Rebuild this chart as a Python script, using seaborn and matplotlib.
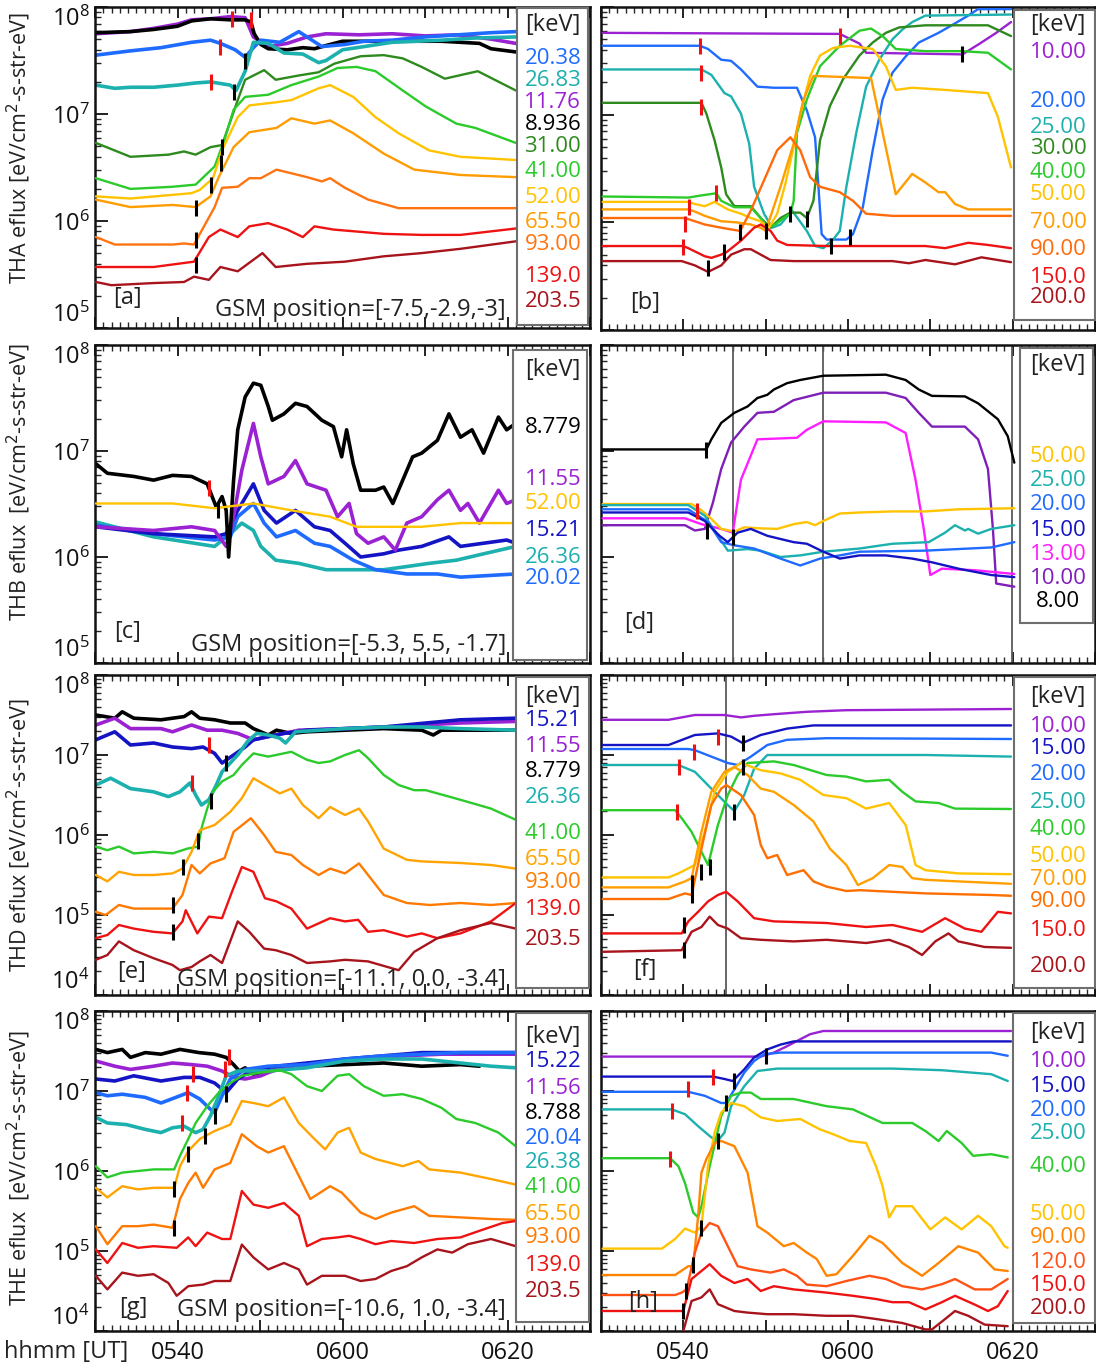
import numpy as np
import pandas as pd
import matplotlib
matplotlib.use("Agg")
import matplotlib.pyplot as plt
import matplotlib.ticker as mticker
from matplotlib.patches import Rectangle
import seaborn as sns

sns.set_theme(style="white")
plt.rcParams['font.family'] = ['Open Sans', 'DejaVu Sans']
plt.rcParams['axes.unicode_minus'] = False

# ---------------------------------------------------------------------------
# Electron energy flux, log10 [eV/cm^2-s-str-eV]; time in minutes after 00 UT.
# Each series: list of (minute, log10 eflux).  Tick marks: (minute, log10, colour).
# ---------------------------------------------------------------------------

# [a] THA observations
tha_obs = {
    '11.76': [(330.1,7.75),(334.3,7.77),(337.1,7.80),(340,7.84),(341.7,7.88),(344,7.89),(346.4,7.91),(348.2,7.90),(349.2,7.72),(351,7.63),(353.3,7.66),(355.7,7.72),(358,7.75),(362,7.74),(366,7.75),(370,7.73),(374,7.74),(378,7.70),(381,7.66)],
    '8.936': [(330.1,7.76),(334.3,7.77),(337.1,7.79),(340,7.82),(341.7,7.87),(344,7.89),(346.4,7.88),(348.2,7.88),(348.9,7.86),(349.3,7.75),(350.1,7.65),(351,7.61),(353.3,7.60),(355.2,7.62),(356.6,7.61),(358,7.64),(360,7.68),(364,7.68),(368,7.68),(372,7.68),(376.6,7.66),(378,7.61),(381,7.58)],
    '20.38': [(330.1,7.55),(334.3,7.59),(338,7.62),(341.7,7.67),(344,7.69),(345.2,7.66),(347,7.60),(348.2,7.53),(349.2,7.62),(350.1,7.69),(352.4,7.67),(354.7,7.77),(355.7,7.72),(357.5,7.63),(360.3,7.65),(362.6,7.68),(366,7.69),(370,7.72),(374,7.74),(378,7.76),(381,7.77)],
    '26.83': [(330.1,7.27),(332.4,7.24),(334.3,7.25),(337.1,7.25),(340,7.27),(342.2,7.29),(344,7.30),(346.4,7.27),(347.1,7.22),(348.2,7.40),(349.2,7.67),(351,7.66),(352.9,7.57),(355.2,7.56),(357.1,7.48),(358,7.50),(360,7.60),(362.6,7.63),(366,7.67),(372,7.69),(376,7.71),(381,7.72)],
    '31.00': [(330.1,6.73),(334.3,6.60),(338.9,6.62),(340.8,6.65),(342.2,6.62),(344,6.69),(345.4,6.71),(347.3,7.13),(348.2,7.32),(350.5,7.41),(351.9,7.32),(354.7,7.36),(357.1,7.39),(359,7.47),(362.2,7.54),(365,7.55),(367.3,7.52),(369.6,7.44),(372.4,7.33),(376.4,7.40),(381,7.22)],
    '41.00': [(330.1,6.40),(334.3,6.30),(339.4,6.32),(342.2,6.34),(344.5,6.51),(345.7,6.76),(346.8,7.04),(348.2,7.16),(351,7.18),(353.8,7.27),(357.1,7.35),(359.4,7.43),(361.7,7.44),(364,7.40),(367.3,7.22),(370.1,7.07),(373.8,6.91),(376.1,6.87),(381,6.73)],
    '52.00': [(330.1,6.23),(334.3,6.21),(341.7,6.26),(342.7,6.29),(344.3,6.40),(345.4,6.66),(347.3,6.97),(348.7,7.08),(352,7.11),(353.8,7.13),(357.1,7.24),(358.5,7.27),(361.3,7.16),(364,6.97),(366.8,6.82),(370.5,6.66),(374.3,6.60),(381,6.57)],
    '65.50': [(330.1,6.20),(334.3,6.13),(339.4,6.15),(342.2,6.13),(344,6.23),(345,6.41),(346.8,6.69),(348.7,6.83),(352,6.87),(353.8,6.96),(356.6,6.91),(358.5,6.94),(361.3,6.82),(365,6.63),(368.7,6.48),(374.3,6.43),(381,6.41)],
    '93.00': [(330.1,5.85),(332.4,5.78),(339.4,5.78),(340.8,5.79),(342,5.78),(344.5,6.13),(345.4,6.31),(347.3,6.32),(348.7,6.40),(350.1,6.40),(352,6.48),(355.7,6.41),(357.5,6.37),(358.5,6.40),(360.3,6.31),(363.1,6.20),(366.8,6.12),(381,6.12)],
    '139.0': [(330.1,5.57),(337.1,5.57),(342,5.62),(343.8,5.85),(345.2,5.92),(347.3,5.85),(348.7,5.95),(351,5.98),(353.3,5.92),(355.2,5.85),(356.6,5.95),(358.9,5.92),(365,5.88),(369.6,5.87),(374.3,5.87),(381,5.93)],
    '203.5': [(330.1,5.43),(332,5.40),(337.1,5.42),(340.8,5.43),(342,5.48),(343.8,5.45),(345.2,5.57),(347.3,5.53),(350.3,5.70),(351.9,5.57),(355.7,5.60),(360.3,5.62),(365,5.67),(369.6,5.70),(374.3,5.74),(381,5.81)],
}
tha_marks = [(346.6,7.89,'r'),(348.9,7.88,'r'),(345.2,7.63,'r'),(344.0,7.30,'r'),
             (348.2,7.50,'k'),(346.9,7.21,'k'),(345.4,6.69,'k'),(345.3,6.54,'k'),
             (344.0,6.34,'k'),(342.3,6.12,'k'),(342.2,5.82,'k'),(342.3,5.59,'k')]

# [b] THA model
tha_mod = {
    '10.00': [(330.2,7.76),(359,7.75),(361.4,7.66),(362.2,7.575),(366,7.57),(373.9,7.56),(376,7.66),(378,7.76),(379.8,7.86)],
    '20.00': [(330.2,7.64),(342,7.64),(343,7.61),(344.6,7.51),(345.8,7.50),(347,7.42),(349,7.26),(351,7.25),(353.8,7.25),(355,7.04),(356,6.79),(356.8,5.89),(357.4,5.84),(359.8,5.84),(360.6,5.89),(361.8,6.14),(363,6.67),(364.2,7.14),(365.4,7.39),(367,7.54),(368.6,7.67),(371,7.76),(372.6,7.83),(374.6,7.92),(375.8,7.98),(379.8,7.98)],
    '25.00': [(330.2,7.42),(342.2,7.42),(343.4,7.37),(345,7.20),(345.8,7.17),(347,7.01),(348,6.73),(348.6,6.33),(349.8,6.08),(350.8,5.95),(351.8,5.98),(353.2,6.11),(355,5.92),(356,5.78),(357,5.76),(358.2,5.84),(359,5.92),(359.8,6.33),(361,6.83),(362.2,7.26),(363.8,7.51),(365.4,7.70),(366.6,7.79),(367.8,7.86),(369.4,7.92),(379.8,7.93)],
    '30.00': [(330.2,7.11),(342.2,7.11),(342.8,7.01),(343.8,6.76),(344.6,6.51),(345.2,6.26),(346.2,6.15),(348.2,6.15),(349.4,6.04),(350.6,5.95),(351.8,6.04),(353,6.09),(354.2,6.09),(355,6.04),(355.8,6.20),(356.6,6.76),(357.8,7.08),(359.4,7.33),(361.4,7.55),(363,7.67),(364.6,7.76),(366.2,7.81),(369.4,7.83),(377,7.83),(379.8,7.73)],
    '40.00': [(330.2,6.24),(340.6,6.23),(342.2,6.25),(344,6.27),(344.6,6.20),(346.2,6.14),(348.2,6.14),(349.4,6.04),(350.2,5.95),(351.2,5.98),(352.2,6.04),(353,6.08),(353.4,6.20),(353.8,6.83),(355,7.14),(356.6,7.45),(359,7.64),(361.4,7.78),(362.8,7.80),(364.2,7.73),(365.8,7.61),(369.4,7.59),(373.8,7.59),(377,7.575),(379.8,7.42)],
    '50.00': [(330.2,6.19),(340.6,6.19),(341.4,6.17),(342.6,6.15),(343.8,6.19),(345.4,6.12),(347,6.08),(348.2,6.04),(349.4,6.01),(350.4,5.95),(351.4,6.08),(352.4,6.36),(353.4,6.70),(354.2,7.01),(355.4,7.36),(356.6,7.55),(358.2,7.62),(360.2,7.64),(363,7.61),(364.6,7.45),(365.8,7.23),(367.8,7.25),(371.8,7.23),(377,7.20),(378.2,6.98),(379.8,6.51)],
    '70.00': [(330.2,6.12),(340.6,6.12),(341.4,6.10),(342.6,6.06),(344.6,6.01),(346.4,6.00),(348.2,5.98),(349.4,5.95),(350.0,5.92),(351.8,6.33),(353.4,6.73),(354.6,7.14),(355.8,7.36),(362.8,7.34),(365.8,6.26),(367.8,6.45),(369.4,6.37),(371,6.28),(371.8,6.28),(373,6.17),(374.6,6.12),(379.8,6.12)],
    '90.00': [(330.2,6.04),(340.2,6.04),(341.4,6.01),(342.6,5.98),(344.6,5.95),(346.9,5.92),(348.2,6.11),(349.8,6.39),(351.4,6.67),(353,6.79),(354.2,6.67),(355.4,6.42),(356.6,6.33),(359,6.28),(360.6,6.20),(362.2,6.08),(365.4,6.06),(379.8,6.06)],
    '150.0': [(330.2,5.78),(340,5.78),(340.6,5.76),(342.6,5.685),(343.4,5.67),(344.6,5.70),(345.2,5.72),(347,5.83),(348.6,5.95),(349.4,5.98),(350.6,5.92),(351.4,5.83),(352.6,5.79),(357.4,5.78),(369.4,5.78),(371.8,5.76),(374.6,5.81),(377,5.79),(379.8,5.76)],
    '200.0': [(330.2,5.64),(339.8,5.64),(341.4,5.60),(343,5.54),(344.6,5.60),(345.8,5.70),(347.4,5.75),(348.2,5.75),(349.4,5.70),(350.6,5.65),(353.4,5.64),(365.4,5.64),(367.4,5.62),(369.4,5.65),(373,5.61),(376.2,5.675),(379.8,5.63)],
}
tha_mod_marks = [(359.0,7.73,'r'),(342.0,7.64,'r'),(342.2,7.39,'r'),(342.2,7.07,'r'),
                 (344.0,6.27,'r'),(340.7,6.14,'r'),(340.2,5.98,'r'),(340.0,5.77,'r'),
                 (373.9,7.56,'k'),(343.0,5.575,'k'),(345.0,5.72,'k'),(346.9,5.91,'k'),
                 (350.0,5.92,'k'),(353.0,6.075,'k'),(355.0,6.03,'k'),(357.9,5.78,'k'),
                 (360.2,5.86,'k')]

# [c] THB observations
thb_obs = {
    '52.00': [(330.1,6.505),(339.4,6.505),(344.5,6.46),(349.2,6.505),(353.8,6.44),(358.5,6.38),(361.7,6.285),(369.6,6.285),(374.3,6.32),(381,6.32)],
    '26.36': [(330.1,6.33),(337.1,6.19),(344.5,6.10),(346.4,6.22),(347.8,6.32),(349.2,6.25),(350.1,6.10),(351.9,5.97),(354.7,5.94),(358,5.88),(361.3,5.88),(365,5.88),(367.8,5.91),(370.5,5.94),(373.8,5.97),(377.1,6.03),(381,6.10)],
    '20.02': [(330.1,6.30),(337.1,6.22),(344.5,6.16),(346.4,6.19),(347.3,6.38),(349.2,6.505),(350.5,6.32),(352,6.19),(354.3,6.25),(356.6,6.13),(358.5,6.10),(361.3,5.97),(364,5.88),(367.8,5.84),(371.5,5.84),(374.3,5.81),(381,5.84)],
    '15.21': [(330.1,6.285),(337.1,6.22),(344.5,6.19),(345.9,6.22),(347.3,6.44),(349.2,6.69),(350.5,6.44),(352,6.32),(354.3,6.44),(356.6,6.285),(358.5,6.25),(360.3,6.13),(362.2,6.00),(365,6.03),(366.8,6.065),(369.6,6.10),(372.9,6.19),(374.3,6.10),(377.1,6.13),(379.9,6.16),(381,6.13)],
    '11.55': [(330.1,6.285),(337.1,6.25),(341.7,6.285),(344.5,6.25),(345.9,6.10),(346.8,6.38),(347.8,6.82),(349.2,7.26),(350.1,6.945),(351,6.69),(352.9,6.76),(354.3,6.91),(355.7,6.69),(358,6.63),(359.4,6.38),(360.8,6.505),(361.7,6.22),(363.1,6.13),(365,6.19),(366.4,6.065),(367.8,6.32),(369.6,6.38),(371.5,6.54),(372.9,6.63),(374.3,6.44),(375.2,6.505),(376.6,6.32),(378.9,6.63),(379.9,6.505),(381,6.54)],
    '8.779': [(330.1,6.88),(331.5,6.79),(334.7,6.76),(337.1,6.725),(339.4,6.77),(341.7,6.76),(343.6,6.69),(344.7,6.47),(345.4,6.57),(345.9,6.44),(346.2,6.00),(346.8,6.725),(347.3,7.20),(348.2,7.51),(349.2,7.64),(350.1,7.62),(351,7.42),(351.5,7.29),(352.9,7.35),(354.3,7.45),(355.7,7.42),(357.5,7.29),(358.9,7.23),(359.9,6.945),(360.5,7.20),(361.3,6.88),(362.2,6.63),(364,6.63),(365,6.66),(366.1,6.505),(367.3,6.725),(368.5,6.945),(369.6,6.98),(371.5,7.10),(372.9,7.35),(374.3,7.13),(375.7,7.20),(377.1,6.98),(378.9,7.32),(379.9,7.20),(381,7.26)],
}
thb_marks = [(343.8,6.65,'r'),(344.9,6.44,'k')]

# [d] THB model
thb_mod = {
    '8.00': [(330.2,7.015),(342.8,7.015),(343.4,7.11),(344.6,7.265),(346.2,7.36),(347.8,7.42),(349,7.50),(350.2,7.53),(351,7.58),(352.6,7.64),(354.2,7.67),(357,7.71),(364.6,7.72),(367,7.67),(368.6,7.58),(370.2,7.52),(374.2,7.515),(375.8,7.45),(378.2,7.30),(379.4,7.14),(380.2,6.89)],
    '10.00': [(330.2,6.30),(340.2,6.30),(341.4,6.25),(342.6,6.265),(343.6,6.515),(344.6,6.83),(345.8,7.08),(347.4,7.23),(349,7.36),(351,7.37),(353.4,7.48),(357,7.55),(364.6,7.55),(367,7.50),(368.6,7.36),(370.2,7.23),(374.2,7.23),(375.8,7.11),(377,6.83),(377.6,6.265),(378,5.75),(380.2,5.72)],
    '13.00': [(330.2,6.365),(340.2,6.365),(342.2,6.31),(344.6,6.265),(346,6.23),(347,6.73),(349,7.11),(353.8,7.125),(355,7.20),(357,7.28),(364.6,7.27),(367,7.17),(368.2,6.73),(369.2,6.265),(370,5.83),(371.4,5.89),(375.4,5.875),(380.2,5.84)],
    '50.00': [(330.2,6.50),(341,6.50),(342.2,6.44),(343.4,6.36),(344.6,6.265),(346.2,6.24),(347.4,6.28),(349.4,6.27),(351.4,6.265),(353.4,6.31),(355,6.33),(356,6.30),(357,6.34),(359,6.41),(361.4,6.42),(365.4,6.43),(369.4,6.43),(373.4,6.45),(380.2,6.46)],
    '25.00': [(330.2,6.49),(340.6,6.49),(342.6,6.39),(344.2,6.20),(345.4,6.06),(347.8,6.075),(349.4,6.06),(351.8,6.00),(354.2,6.015),(357,6.05),(361.4,6.08),(365.4,6.125),(369.8,6.14),(371.8,6.23),(373,6.30),(374.2,6.25),(374.6,6.265),(375.8,6.22),(377.4,6.265),(378.6,6.28),(380.2,6.30)],
    '20.00': [(330.2,6.45),(340.6,6.45),(343,6.33),(344.6,6.14),(346.2,6.11),(348.6,6.08),(351.8,5.985),(354.2,5.92),(356.6,5.985),(359,6.015),(361.4,6.05),(369.4,6.06),(373.4,6.075),(377.4,6.09),(380.2,6.14)],
    '15.00': [(330.2,6.42),(340.6,6.42),(342.6,6.34),(344.4,6.20),(345.4,6.14),(346.6,6.23),(348.2,6.265),(350.2,6.20),(353.4,6.14),(355,6.125),(357,6.05),(359,5.985),(361.4,6.015),(364.6,6.015),(367.8,5.985),(370.2,5.95),(373.4,5.89),(377.4,5.83),(380.2,5.81)],
}
thb_mod_marks = [(341.6,6.43,'r'),(342.8,7.01,'k'),(342.9,6.25,'k'),(346.0,6.19,'k')]
thb_mod_vlines = [346.0, 357.0, 379.9]

# [e] THD observations
thd_obs = {
    '8.779': [(330.1,7.50),(332.4,7.46),(333.3,7.54),(334.7,7.46),(338,7.44),(340.8,7.48),(341.7,7.54),(342.7,7.46),(344.5,7.44),(346.4,7.40),(348.2,7.40),(349.2,7.33),(350.1,7.29),(351,7.25),(352,7.31),(353.8,7.27),(355.7,7.29),(360.3,7.31),(365,7.33),(369.6,7.31),(371,7.25),(372,7.31),(376.6,7.31),(381,7.31)],
    '11.55': [(330.1,7.375),(332.4,7.46),(334.3,7.33),(338,7.33),(339.4,7.29),(341.7,7.375),(343.6,7.31),(345.4,7.31),(347.3,7.27),(349.2,7.19),(351,7.23),(352.9,7.27),(354.7,7.31),(360.3,7.33),(365,7.35),(369.6,7.375),(374.3,7.40),(381,7.42)],
    '15.21': [(330.1,7.19),(332.4,7.29),(334.3,7.125),(337.1,7.15),(339.4,7.10),(341.7,7.08),(343.1,7.10),(344.5,7.02),(345.4,6.90),(346.8,7.00),(348.2,7.10),(349.2,7.19),(351,7.23),(352.9,7.27),(355.7,7.31),(360.3,7.33),(365,7.35),(369.6,7.395),(374.3,7.44),(381,7.46)],
    '26.36': [(330.1,6.625),(331.9,6.71),(334.3,6.58),(337.1,6.54),(338.9,6.48),(340.3,6.54),(341.5,6.65),(342.2,6.50),(342.9,6.375),(343.8,6.44),(344.7,6.625),(345.4,6.79),(347.3,7.00),(348.5,7.17),(349.6,7.27),(351,7.25),(352.4,7.21),(353.1,7.15),(354.3,7.29),(360.3,7.33),(365,7.35),(369.6,7.35),(374.3,7.33),(381,7.31)],
    '41.00': [(330.1,5.855),(331.5,5.81),(332.9,5.855),(334.7,5.77),(337.1,5.79),(339.4,5.77),(341.2,5.83),(342.5,5.855),(342.9,6.08),(343.6,6.33),(344.3,6.54),(345.4,6.67),(346.8,6.75),(347.8,6.875),(349.2,7.02),(351,6.98),(353.8,7.04),(355.7,6.94),(357.1,6.90),(358.5,6.92),(360.3,7.00),(362,7.06),(363.1,6.96),(365,6.75),(366.8,6.625),(368.7,6.56),(370.1,6.56),(374.3,6.44),(378,6.33),(381,6.19)],
    '65.50': [(330.1,5.50),(331.5,5.42),(332.9,5.54),(334.7,5.50),(337.1,5.50),(339.4,5.52),(340.6,5.58),(341.7,5.79),(342.7,6.06),(344.5,6.125),(346.4,6.29),(347.8,6.46),(349.2,6.71),(350.6,6.625),(352.4,6.52),(353.8,6.58),(355.2,6.375),(357.1,6.21),(358.5,6.35),(360.3,6.25),(362,6.33),(363.1,6.17),(365,5.83),(367.8,5.69),(369.6,5.67),(374.3,5.65),(378,5.625),(381,5.58)],
    '93.00': [(330.1,5.04),(331.3,5.00),(332.9,5.125),(334.7,5.08),(339.4,5.08),(340.6,5.25),(341.7,5.625),(342.7,5.52),(344,5.645),(345.7,5.71),(346.8,6.04),(348.9,6.21),(350.5,6.00),(351.9,5.79),(353.8,5.75),(355.2,5.625),(357.1,5.50),(358.5,5.58),(360.3,5.52),(362,5.645),(363.1,5.50),(365,5.25),(367.8,5.15),(370.6,5.125),(374.3,5.15),(378,5.125),(381,5.15)],
    '139.0': [(330.1,4.71),(331.5,4.75),(332.9,4.875),(334.7,4.83),(337.1,4.79),(339.4,4.77),(340.6,4.92),(341,5.06),(342.4,4.77),(343.8,4.98),(345.4,4.96),(346.6,5.29),(347.8,5.60),(349.2,5.54),(350.6,5.21),(352,5.17),(353.8,5.08),(355.7,4.83),(358.5,4.96),(360.3,4.92),(361.9,4.94),(363.1,4.79),(365,4.81),(367.8,4.73),(369.6,4.77),(371.5,4.71),(374.3,4.77),(378,4.92),(381,5.15)],
    '203.5': [(330.1,4.44),(331.5,4.50),(332.9,4.67),(334.7,4.56),(337.1,4.46),(339.4,4.375),(340.3,4.31),(341.7,4.35),(342.7,4.42),(344,4.50),(345.4,4.40),(347.3,4.92),(348.7,4.79),(350.5,4.58),(351.9,4.56),(353.8,4.50),(355.7,4.40),(358.5,4.42),(360.3,4.44),(363.1,4.42),(366.8,4.31),(368.7,4.54),(371.5,4.71),(374.3,4.81),(378,4.90),(381,4.83)],
}
thd_marks = [(343.8,7.125,'r'),(341.7,6.65,'r'),(345.9,6.90,'k'),(344.0,6.42,'k'),
             (342.5,5.92,'k'),(340.7,5.60,'k'),(339.4,5.125,'k'),(339.4,4.79,'k')]

# [f] THD model
thd_mod = {
    '10.00': [(330.2,7.44),(338.2,7.44),(341.4,7.50),(345,7.50),(347,7.47),(348.6,7.49),(351,7.51),(355,7.54),(359.8,7.56),(379.8,7.575)],
    '15.00': [(330.2,7.125),(338.2,7.125),(341.4,7.25),(344.2,7.27),(345.8,7.23),(347.2,7.15),(349.4,7.25),(352.6,7.33),(355.8,7.37),(379.8,7.37)],
    '20.00': [(330.2,7.075),(340.6,7.075),(341.4,7.06),(343.4,6.98),(345.4,6.90),(346.6,6.875),(348.2,6.98),(350.2,7.125),(352.6,7.19),(357.4,7.21),(379.8,7.20)],
    '25.00': [(330.2,6.875),(339.4,6.875),(341.4,6.79),(343.4,6.58),(345.4,6.375),(346.2,6.30),(347.4,6.50),(348.6,6.83),(350.2,7.00),(353.4,7.00),(369.4,7.00),(379.8,6.98)],
    '40.00': [(330.2,6.31),(339,6.31),(339.8,6.21),(341,6.04),(342.2,5.79),(343,5.625),(344.2,6.125),(345.4,6.50),(346.6,6.75),(347.8,6.90),(351,6.92),(353.4,6.875),(357.4,6.75),(359.8,6.73),(362.2,6.67),(365,6.69),(366.6,6.54),(368.2,6.42),(371,6.40),(373,6.33),(379.8,6.325)],
    '50.00': [(330.2,5.47),(338.2,5.47),(339.4,5.52),(341.4,5.625),(342.6,6.04),(343.8,6.54),(345.4,6.79),(347,6.90),(349.4,6.81),(351.8,6.77),(354.2,6.69),(357,6.50),(359.8,6.46),(362.2,6.33),(365,6.40),(367,6.125),(368.2,5.625),(369.4,5.56),(373.4,5.52),(379.8,5.51)],
    '70.00': [(330.2,5.345),(338.2,5.345),(340.2,5.42),(341,5.46),(342.2,6.04),(343.4,6.54),(345,6.79),(346.2,6.85),(347.8,6.75),(349.4,6.58),(351,6.54),(353.4,6.375),(355.8,6.17),(357.8,5.83),(359.8,5.625),(361.2,5.375),(363,5.46),(365,5.625),(366.6,5.60),(367.8,5.46),(369.4,5.44),(373.4,5.42),(379.8,5.39)],
    '90.00': [(330.2,5.20),(338.2,5.20),(340.2,5.27),(341,5.25),(342.2,5.83),(343.4,6.375),(344.6,6.58),(345.2,6.625),(347,6.50),(348.6,6.25),(349.4,5.875),(350.2,5.71),(351.4,5.75),(352.6,5.50),(354.6,5.56),(355.8,5.42),(357.4,5.355),(359.8,5.30),(361.4,5.31),(365.4,5.29),(369.4,5.27),(377.4,5.25),(379.8,5.24)],
    '150.0': [(330.2,4.77),(339.8,4.77),(340.6,4.92),(341.8,5.04),(343,5.17),(344.2,5.25),(345.2,5.29),(346.6,5.17),(348.6,4.96),(351,4.92),(357.4,4.90),(362.2,4.85),(365.4,4.875),(369,4.79),(371.8,4.96),(374.2,4.83),(376.2,4.79),(378.2,5.04),(379.8,5.02)],
    '200.0': [(330.2,4.54),(339.8,4.56),(341,4.79),(342.2,4.85),(343.2,4.98),(344.2,4.875),(345.4,4.83),(347,4.71),(349.4,4.69),(353.4,4.67),(357.4,4.69),(362.2,4.65),(365,4.69),(367.4,4.60),(369,4.50),(370.6,4.67),(372.2,4.77),(373.4,4.67),(376.6,4.60),(379.8,4.59)],
}
thd_mod_marks = [(344.2,7.23,'r'),(341.3,7.04,'r'),(339.5,6.85,'r'),(339.2,6.29,'r'),
                 (347.3,7.15,'k'),(347.2,6.85,'k'),(346.2,6.29,'k'),(343.2,5.60,'k'),
                 (342.2,5.54,'k'),(341.1,5.40,'k'),(341.0,5.25,'k'),(340.1,4.875,'k'),
                 (340.1,4.56,'k')]
thd_mod_vlines = [345.2]

# [g] THE observations
the_obs = {
    '8.788': [(330.1,7.52),(331.5,7.48),(333.3,7.52),(334.3,7.42),(336.1,7.48),(338,7.46),(340.3,7.52),(342.6,7.48),(344.5,7.46),(345.9,7.42),(346.8,7.33),(347.5,7.25),(348.2,7.29),(349.2,7.21),(351,7.25),(353.3,7.29),(355.7,7.31),(360.3,7.33),(365,7.35),(369.6,7.31),(374.3,7.33),(376.6,7.31)],
    '11.56': [(330.1,7.375),(332.4,7.31),(334.3,7.27),(337.1,7.31),(339.4,7.35),(341.7,7.33),(343.6,7.31),(345.4,7.25),(346.8,7.17),(348.2,7.15),(350.1,7.19),(351,7.23),(353.3,7.31),(358,7.35),(362.6,7.40),(367.3,7.44),(372,7.46),(381,7.46)],
    '15.22': [(330.1,7.15),(332.4,7.125),(334.7,7.19),(338,7.125),(340.8,7.17),(342.7,7.17),(344.5,7.10),(345.9,6.98),(347.3,7.15),(349.2,7.27),(352,7.31),(355.7,7.35),(360.3,7.40),(365,7.44),(369.6,7.48),(374.3,7.48),(381,7.48)],
    '20.04': [(330.1,6.98),(331.5,6.94),(333.3,6.96),(336.1,6.92),(338,6.85),(340.3,6.94),(341.3,6.98),(342.7,6.90),(344,6.77),(344.5,6.73),(345.4,6.94),(346.4,7.15),(348.2,7.27),(351,7.31),(355.7,7.33),(360.3,7.40),(365,7.44),(369.6,7.46),(374.3,7.48),(381,7.48)],
    '26.38': [(330.1,6.67),(331.5,6.60),(333.8,6.58),(336.1,6.52),(338,6.48),(339.4,6.54),(340.8,6.56),(342.2,6.48),(343.1,6.52),(344,6.69),(345,6.94),(345.9,7.19),(347.3,7.25),(351,7.25),(355.7,7.29),(360.3,7.375),(365,7.40),(369.6,7.40),(374.3,7.35),(378,7.31),(381,7.29)],
    '41.00': [(330.1,6.06),(331.5,5.92),(333.3,5.98),(335.2,6.00),(337.1,6.02),(339.6,6.02),(340.3,6.19),(341.3,6.40),(342.2,6.60),(343.6,6.81),(345,6.98),(346.4,7.10),(347.8,7.19),(350.1,7.23),(352.4,7.26),(353.8,7.21),(355.7,7.06),(357.5,7.00),(359.4,7.19),(360.8,7.21),(362.6,7.06),(365,6.94),(367.3,6.96),(369.6,6.90),(372,6.79),(373.8,6.65),(376.1,6.60),(378.9,6.48),(381,6.31)],
    '65.50': [(330.1,5.79),(331.5,5.67),(333.3,5.81),(335.2,5.77),(337.1,5.79),(339.6,5.79),(340.3,6.06),(341.3,6.25),(342.7,6.40),(344.5,6.50),(346.4,6.58),(347.8,6.875),(349.2,6.85),(351,6.81),(352.9,6.92),(354.7,6.60),(356.6,6.40),(357.9,6.27),(359.4,6.48),(360.8,6.54),(362.2,6.23),(364,6.15),(367.3,6.06),(369.2,6.125),(370.5,6.02),(374.3,5.98),(378,5.90),(381,5.83)],
    '93.00': [(330.1,5.31),(331.5,5.085),(333.3,5.31),(335.2,5.31),(337.1,5.33),(339.4,5.29),(340.3,5.65),(341.3,5.85),(342.2,5.98),(343.1,5.79),(344.5,6.02),(346.4,6.10),(347.8,6.46),(349.6,6.31),(351,6.23),(352.9,6.31),(354.7,5.94),(356.1,5.65),(358.5,5.81),(359.9,5.73),(362.2,5.48),(364,5.40),(365.9,5.48),(368.7,5.56),(370.5,5.44),(374.3,5.42),(378,5.40),(381,5.39)],
    '139.0': [(330.1,5.02),(331.5,4.85),(333.3,5.10),(335.2,5.04),(337.1,5.06),(339.9,5.04),(341.3,5.17),(342.2,5.06),(343.6,5.23),(345.4,5.15),(346.4,5.15),(347.8,5.75),(349.2,5.58),(351,5.54),(352.9,5.60),(354.7,5.44),(355.7,5.06),(357.5,5.15),(359.4,5.17),(360.8,5.19),(362.2,5.15),(364,5.085),(365.9,5.125),(368.7,5.10),(371.5,5.15),(374.3,5.17),(377.1,5.27),(379.4,5.35),(381,5.375)],
    '203.5': [(330.1,4.69),(331.5,4.52),(333.3,4.73),(335.2,4.69),(337.1,4.71),(338.9,4.60),(339.9,4.44),(341.3,4.56),(343.1,4.58),(344.5,4.625),(346.4,4.625),(347.8,5.08),(349.2,4.92),(351,4.77),(352.9,4.85),(354.7,4.77),(355.7,4.58),(357.5,4.69),(360.3,4.69),(362.2,4.625),(364,4.65),(365.9,4.75),(367.8,4.81),(369.6,4.92),(371.5,5.02),(373.3,4.98),(375.2,5.085),(378,5.15),(381,5.06)],
}
the_marks = [(346.3,7.42,'r'),(345.7,7.27,'r'),(341.9,7.21,'r'),(341.2,6.98,'r'),(340.5,6.60,'r'),
             (345.9,6.96,'k'),(344.5,6.69,'k'),(343.3,6.44,'k'),(341.3,6.21,'k'),
             (339.6,5.77,'k'),(339.6,5.29,'k')]

# [h] THE model
the_mod = {
    '10.00': [(330.2,7.43),(349.4,7.43),(351,7.48),(352.6,7.56),(353.8,7.625),(355.4,7.71),(357,7.75),(379.8,7.75)],
    '15.00': [(330.2,7.18),(343.6,7.18),(345,7.15),(346,7.125),(347.4,7.27),(348.6,7.42),(350.2,7.52),(351.8,7.58),(353.4,7.62),(379.8,7.62)],
    '20.00': [(330.2,6.99),(340.6,6.99),(342.6,6.94),(344.6,6.85),(345.2,6.85),(346.2,7.02),(347.4,7.23),(348.6,7.375),(349.8,7.46),(351.8,7.48),(377.4,7.48),(379.4,7.44)],
    '25.00': [(330.2,6.77),(338.6,6.77),(340.2,6.71),(341.8,6.56),(343.4,6.42),(344.2,6.38),(345,6.48),(345.8,6.81),(347.4,7.06),(349,7.25),(351.4,7.28),(365.4,7.28),(371.4,7.26),(377.4,7.21),(379.4,7.125)],
    '40.00': [(330.2,6.16),(338.4,6.16),(339.4,6.06),(340.2,5.85),(341.2,5.48),(341.8,5.42),(342.2,5.56),(343.2,6.06),(344.6,6.69),(345.8,6.94),(347,6.98),(348.2,6.98),(349.4,6.90),(353.4,6.90),(357.4,6.81),(360.6,6.77),(364.2,6.60),(367.8,6.60),(369.4,6.50),(371,6.375),(372,6.50),(373.8,6.35),(375.2,6.19),(377.4,6.21),(379.4,6.17)],
    '50.00': [(330.2,5.03),(337.4,5.03),(339,5.15),(340.2,5.28),(341.4,5.23),(342.2,5.31),(343,6.06),(343.8,6.48),(344.6,6.73),(345.8,6.85),(347.4,6.81),(349.4,6.67),(351.4,6.625),(354.2,6.65),(356.6,6.52),(358.2,6.46),(360.2,6.375),(362.2,6.35),(363.4,6.06),(364.2,5.81),(365,5.42),(365.8,5.56),(367.8,5.56),(370,5.27),(371.8,5.42),(373.8,5.27),(375.8,5.44),(377.4,5.31),(379,5.06),(379.4,5.04)],
    '90.00': [(330.2,4.70),(339,4.70),(340.6,4.81),(341.2,4.81),(341.8,5.44),(342.2,5.98),(342.8,6.15),(343.8,6.35),(344.6,6.375),(346.2,6.31),(347.8,5.98),(349,5.31),(350.2,5.23),(352.2,5.06),(353.4,5.10),(355,4.98),(356.2,4.90),(357.4,4.69),(358.6,4.71),(360.6,4.94),(362.6,5.19),(364.2,5.10),(366.6,4.85),(369,4.69),(371,4.85),(373.4,5.06),(375.8,4.98),(377.8,4.77),(379.4,4.75)],
    '120.0': [(330.2,4.45),(339,4.45),(339.8,4.48),(340.4,4.52),(341.4,4.98),(342.2,5.23),(343.2,5.35),(344.2,5.31),(345.4,5.06),(346.6,4.81),(348.2,4.77),(350.6,4.73),(352.2,4.77),(353.8,4.69),(355,4.58),(357.4,4.56),(359.8,4.625),(362.6,4.69),(364.6,4.65),(366.6,4.56),(369,4.52),(371.4,4.585),(373,4.65),(375.4,4.52),(377.4,4.52),(379.4,4.65)],
    '150.0': [(330.2,4.25),(339,4.25),(340,4.25),(341,4.65),(342.2,4.75),(343.2,4.835),(344.6,4.69),(346.2,4.60),(347.8,4.65),(349.4,4.50),(351,4.56),(353.4,4.52),(357.4,4.48),(360.6,4.44),(363.4,4.40),(365.4,4.36),(367.4,4.36),(369.4,4.27),(371.4,4.36),(373,4.44),(375.4,4.33),(377,4.25),(378.2,4.31),(379.4,4.50)],
    '200.0': [(330.2,3.90),(339.8,3.90),(340,4.00),(341,4.375),(342.2,4.42),(343.2,4.52),(344.2,4.335),(346.2,4.25),(347.8,4.23),(350.2,4.21),(353.4,4.21),(357.4,4.19),(360.6,4.19),(363.4,4.15),(366.6,4.10),(369.4,4.02),(370.2,4.02),(371.8,4.15),(373,4.25),(374.6,4.19),(376.6,4.08),(379.4,4.06)],
}
the_mod_marks = [(343.6,7.18,'r'),(340.6,7.02,'r'),(338.6,6.75,'r'),(338.4,6.15,'r'),
                 (350.1,7.44,'k'),(346.1,7.13,'k'),(345.2,6.85,'k'),(344.2,6.375,'k'),
                 (342.2,5.29,'k'),(341.2,4.83,'k'),(340.3,4.50,'k'),(340.0,4.25,'k')]

# Legend entries in listed order (top to bottom)
tha_keys = ['20.38', '26.83', '11.76', '8.936', '31.00', '41.00', '52.00', '65.50', '93.00', '139.0', '203.5']
tha_mod_keys = ['10.00', '20.00', '25.00', '30.00', '40.00', '50.00', '70.00', '90.00', '150.0', '200.0']
thb_keys = ['8.779', '11.55', '52.00', '15.21', '26.36', '20.02']
thb_mod_keys = ['50.00', '25.00', '20.00', '15.00', '13.00', '10.00', '8.00']
thd_keys = ['15.21', '11.55', '8.779', '26.36', '41.00', '65.50', '93.00', '139.0', '203.5']
thd_mod_keys = ['10.00', '15.00', '20.00', '25.00', '40.00', '50.00', '70.00', '90.00', '150.0', '200.0']
the_keys = ['15.22', '11.56', '8.788', '20.04', '26.38', '41.00', '65.50', '93.00', '139.0', '203.5']
the_mod_keys = ['10.00', '15.00', '20.00', '25.00', '40.00', '50.00', '90.00', '120.0', '150.0', '200.0']

# ---------------------------------------------------------------------------
# Styling
# ---------------------------------------------------------------------------
BLACK, PURPLE, MAGENTA, NAVY = '#000000', '#9A22D2', '#FF1EFF', '#1414C4'
BLUE, CYAN, DKGREEN, GREEN = '#1F6BFF', '#1CB0AE', '#2E8A1E', '#2BCB2B'
YELLOW, ORANGE, DKORANGE, RED, DKRED = '#FFC300', '#FF9C00', '#FF6A0A', '#EE1212', '#A8141C'

tha_col = {'20.38': BLUE, '26.83': CYAN, '11.76': PURPLE, '8.936': BLACK, '31.00': DKGREEN,
           '41.00': GREEN, '52.00': YELLOW, '65.50': ORANGE, '93.00': '#FF7410',
           '139.0': RED, '203.5': DKRED}
tha_mod_col = {'10.00': PURPLE, '20.00': BLUE, '25.00': CYAN, '30.00': DKGREEN, '40.00': GREEN,
               '50.00': YELLOW, '70.00': ORANGE, '90.00': DKORANGE, '150.0': RED, '200.0': DKRED}
thb_col = {'8.779': BLACK, '11.55': PURPLE, '52.00': YELLOW, '15.21': NAVY, '26.36': CYAN,
           '20.02': BLUE}
thb_mod_col = {'50.00': YELLOW, '25.00': CYAN, '20.00': BLUE, '15.00': NAVY, '13.00': MAGENTA,
               '10.00': '#7E1FB8', '8.00': BLACK}
thd_col = {'15.21': NAVY, '11.55': PURPLE, '8.779': BLACK, '26.36': CYAN, '41.00': GREEN,
           '65.50': '#FFA400', '93.00': '#FF7A00', '139.0': RED, '203.5': DKRED}
thd_mod_col = dict(tha_mod_col)
thd_mod_col.update({'15.00': NAVY, '40.00': GREEN, '70.00': '#FFA000', '90.00': '#FF6E00'})
the_col = {'15.22': NAVY, '11.56': PURPLE, '8.788': BLACK, '20.04': BLUE, '26.38': CYAN,
           '41.00': GREEN, '65.50': '#FFA400', '93.00': '#FF7A00', '139.0': RED, '203.5': DKRED}
the_mod_col = {'10.00': PURPLE, '15.00': NAVY, '20.00': BLUE, '25.00': CYAN, '40.00': GREEN,
               '50.00': YELLOW, '90.00': '#FF8400', '120.0': '#FF5214', '150.0': RED,
               '200.0': DKRED}

W, H = 1096, 1370
FS = 17
KEY_FS = 16


def to_frame(series):
    rows = [(k, t, 10.0 ** v) for k, pts in series.items() for t, v in pts]
    return pd.DataFrame(rows, columns=['keV', 'minute', 'eflux'])


def hhmm(v, pos):
    v = int(round(v))
    if v % 20:
        return ''
    return f"{v // 60:02d}{v % 60:02d}"


def make_axes(x0, y0, x1, y1):
    return fig.add_axes([x0 / W, 1 - y1 / H, (x1 - x0) / W, (y1 - y0) / H])


def draw(ax, series, colors, keys, label_y, box, marks, noisy=(), ylo=1e5,
         vlines=(), left_labels=True, bottom_labels=False):
    df = to_frame(series)
    smooth = df[~df['keV'].isin(noisy)]
    rough = df[df['keV'].isin(noisy)]
    for v in vlines:
        ax.axvline(v, color='#5a5a5a', lw=1.3, zorder=1)
    if len(smooth):
        sns.lineplot(data=smooth, x='minute', y='eflux', hue='keV', palette=colors,
                     estimator=None, sort=False, legend=False, lw=1.7, ax=ax, zorder=3)
    if len(rough):
        sns.lineplot(data=rough, x='minute', y='eflux', hue='keV', palette=colors,
                     estimator=None, sort=False, legend=False, lw=2.6, ax=ax, zorder=2)
    for t, v, c in marks:
        ax.plot([t], [10.0 ** v], ls='none', marker='|', ms=12, mew=2.2,
                color=RED if c == 'r' else BLACK, zorder=6)

    ax.set_yscale('log')
    ax.set_xlim(330, 390)
    ax.set_ylim(ylo, 1e8)
    ax.set_xlabel('')
    ax.set_ylabel('')
    ax.xaxis.set_major_locator(mticker.MultipleLocator(10))
    ax.xaxis.set_minor_locator(mticker.MultipleLocator(1))
    ax.xaxis.set_major_formatter(mticker.FuncFormatter(hhmm))
    decades = [10.0 ** k for k in range(int(round(np.log10(ylo))), 9)]
    ax.yaxis.set_major_locator(mticker.FixedLocator(decades))
    ax.yaxis.set_major_formatter(mticker.LogFormatterSciNotation())
    ax.yaxis.set_minor_locator(mticker.LogLocator(base=10, subs=np.arange(2, 10), numticks=20))
    ax.yaxis.set_minor_formatter(mticker.NullFormatter())
    ax.tick_params(axis='both', which='major', direction='in', length=8, width=1.3,
                   top=True, bottom=True, left=True, right=False, labelsize=FS, colors='#111')
    ax.tick_params(axis='both', which='minor', direction='in', length=4, width=1.0,
                   top=True, bottom=True, left=True, right=False)
    ax.tick_params(axis='y', which='major', length=9, pad=4, labelleft=left_labels)
    ax.tick_params(axis='x', which='major', pad=7, labelbottom=bottom_labels)
    for s in ax.spines.values():
        s.set_linewidth(1.8)
        s.set_color('#111')
    ax.grid(False)

    bx0, by0, bx1, by1 = box
    ax.add_patch(Rectangle((bx0, by0), bx1 - bx0, by1 - by0, transform=ax.transAxes,
                           facecolor='white', edgecolor='#6e6e6e', lw=1.5, zorder=8,
                           clip_on=False))
    ax.text(0.925, label_y[0], '[keV]', transform=ax.transAxes, ha='center', va='center',
            fontsize=KEY_FS + 1, color='#222', zorder=9)
    for k, y in zip(keys, label_y[1:]):
        ax.text(0.925, y, k, transform=ax.transAxes, ha='center', va='center',
                fontsize=KEY_FS, color=colors[k], zorder=9)


fig = plt.figure(figsize=(W / 100, H / 100), dpi=100)
fig.patch.set_facecolor('white')

ax_a = make_axes(95, 7, 590, 328)
ax_b = make_axes(601, 7, 1095, 330)
ax_c = make_axes(95, 345, 590, 663)
ax_d = make_axes(601, 345, 1095, 663)
ax_e = make_axes(95, 675, 590, 995)
ax_f = make_axes(601, 675, 1095, 995)
ax_g = make_axes(95, 1011, 590, 1331)
ax_h = make_axes(601, 1011, 1095, 1331)

draw(ax_a, tha_obs, tha_col, tha_keys,
     [0.944, 0.840, 0.771, 0.704, 0.634, 0.565, 0.486, 0.408, 0.330, 0.259, 0.159, 0.081],
     (0.853, 0.01, 0.996, 0.998), tha_marks, noisy=('11.76', '8.936', '20.38', '26.83'))
draw(ax_b, tha_mod, tha_mod_col, tha_mod_keys,
     [0.944, 0.858, 0.706, 0.628, 0.563, 0.489, 0.418, 0.334, 0.248, 0.164, 0.100],
     (0.836, 0.031, 1.0, 0.991), tha_mod_marks, left_labels=False)
draw(ax_c, thb_obs, thb_col, thb_keys,
     [0.921, 0.742, 0.576, 0.502, 0.418, 0.333, 0.266],
     (0.844, 0.009, 0.994, 0.984), thb_marks,
     noisy=('8.779', '11.55', '15.21', '26.36', '20.02'))
draw(ax_d, thb_mod, thb_mod_col, thb_mod_keys,
     [0.937, 0.648, 0.575, 0.497, 0.418, 0.340, 0.267, 0.192],
     (0.848, 0.126, 0.996, 0.991), thb_mod_marks, vlines=thb_mod_vlines, left_labels=False)
draw(ax_e, thd_obs, thd_col, thd_keys,
     [0.931, 0.859, 0.775, 0.697, 0.616, 0.506, 0.422, 0.350, 0.266, 0.172],
     (0.850, 0.022, 0.998, 0.994), thd_marks, noisy=('15.21', '11.55', '8.779', '26.36'),
     ylo=1e4)
draw(ax_f, thd_mod, thd_mod_col, thd_mod_keys,
     [0.931, 0.840, 0.770, 0.688, 0.603, 0.516, 0.432, 0.362, 0.293, 0.203, 0.0875],
     (0.836, 0.022, 1.0, 0.994), thd_mod_marks, vlines=thd_mod_vlines, ylo=1e4,
     left_labels=False)
draw(ax_g, the_obs, the_col, the_keys,
     [0.919, 0.841, 0.759, 0.681, 0.603, 0.525, 0.447, 0.363, 0.291, 0.206, 0.122],
     (0.850, 0.028, 0.998, 0.994), the_marks,
     noisy=('15.22', '11.56', '8.788', '20.04', '26.38'), ylo=1e4, bottom_labels=True)
draw(ax_h, the_mod, the_mod_col, the_mod_keys,
     [0.931, 0.843, 0.765, 0.688, 0.618, 0.513, 0.365, 0.291, 0.213, 0.143, 0.070],
     (0.834, 0.025, 1.0, 0.994), the_mod_marks, ylo=1e4, left_labels=False,
     bottom_labels=True)

# Panel tags and spacecraft positions
for ax, tag, x, y in [(ax_a, '[a]', 0.065, 0.093), (ax_b, '[b]', 0.089, 0.084),
                      (ax_c, '[c]', 0.065, 0.097), (ax_d, '[d]', 0.077, 0.126),
                      (ax_e, '[e]', 0.073, 0.072), (ax_f, '[f]', 0.089, 0.078),
                      (ax_g, '[g]', 0.078, 0.072), (ax_h, '[h]', 0.086, 0.091)]:
    ax.text(x, y, tag, transform=ax.transAxes, ha='center', va='center', fontsize=FS,
            color='#222', zorder=9)

for ax, txt, y in [(ax_a, 'GSM position=[-7.5,-2.9,-3]', 0.056),
                   (ax_c, 'GSM position=[-5.3, 5.5, -1.7]', 0.057),
                   (ax_e, 'GSM position=[-11.1, 0.0, -3.4]', 0.047),
                   (ax_g, 'GSM position=[-10.6, 1.0, -3.4]', 0.066)]:
    ax.text(0.83, y, txt, transform=ax.transAxes, ha='right', va='center', fontsize=FS,
            color='#222', zorder=9)

for ax, txt, y in [(ax_a, 'THA eflux [eV/cm$^2$-s-str-eV]', 0.56),
                   (ax_c, 'THB eflux  [eV/cm$^2$-s-str-eV]', 0.57),
                   (ax_e, 'THD eflux [eV/cm$^2$-s-str-eV]', 0.50),
                   (ax_g, 'THE eflux  [eV/cm$^2$-s-str-eV]', 0.51)]:
    ax.set_ylabel(txt, fontsize=15.5, color='#222')
    ax.yaxis.set_label_coords(-0.125, y)

fig.text(4 / W, 1 - 1352 / H, 'hhmm [UT]', ha='left', va='center', fontsize=FS, color='#222')

# Keep the end decade labels inside their own panel
fig.canvas.draw()
for ax in (ax_a, ax_c, ax_e, ax_g):
    lo, hi = ax.get_ylim()
    for tk, loc in zip(ax.yaxis.get_major_ticks(), ax.yaxis.get_majorticklocs()):
        if np.isclose(loc, lo):
            tk.label1.set_verticalalignment('bottom')
        elif np.isclose(loc, hi):
            tk.label1.set_verticalalignment('top')

fig.savefig('out.png', dpi=100, facecolor='white')
